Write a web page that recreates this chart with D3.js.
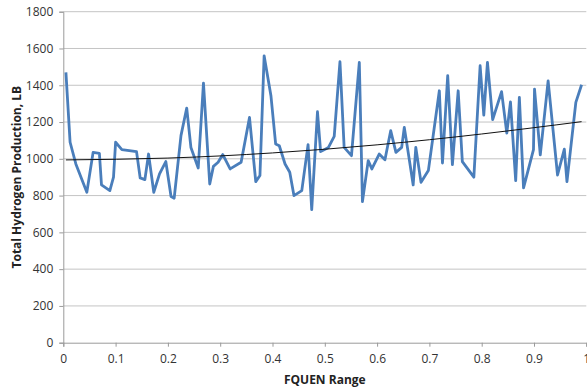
<!DOCTYPE html>
<html>
<head>
<meta charset="utf-8">
<script src="https://cdn.jsdelivr.net/npm/d3@7"></script>
<style>
  html, body { margin: 0; padding: 0; background: #fff; }
  svg { display: block; }
  text { font-family: "Open Sans", "Liberation Sans", sans-serif; }
</style>
</head>
<body>
<svg id="chart" width="587" height="389"></svg>
<script>
// FQUEN values (x) and total hydrogen production (LB)
const fquen = [0.005,0.013,0.024,0.045,0.057,0.069,0.073,0.089,0.096,0.100,
  0.112,0.140,0.147,0.156,0.163,0.173,0.184,0.196,0.206,0.212,
  0.225,0.236,0.244,0.258,0.268,0.280,0.287,0.296,0.305,0.319,
  0.340,0.356,0.368,0.376,0.384,0.397,0.406,0.413,0.424,0.433,
  0.441,0.456,0.468,0.475,0.486,0.492,0.507,0.518,0.529,0.537,
  0.551,0.566,0.572,0.583,0.590,0.604,0.615,0.626,0.636,0.647,
  0.652,0.657,0.669,0.674,0.684,0.698,0.719,0.725,0.735,0.744,
  0.755,0.763,0.785,0.797,0.804,0.811,0.821,0.838,0.848,0.855,
  0.865,0.872,0.880,0.899,0.901,0.912,0.927,0.945,0.958,0.963,
  0.980,0.991];
const production = [1470,1090,972,818,1035,1030,858,827,900,1090,
  1050,1039,896,887,1026,818,918,985,795,786,
  1126,1276,1062,950,1412,863,959,981,1023,945,
  981,1225,876,909,1560,1343,1081,1071,972,927,
  800,827,1077,724,1256,1039,1062,1122,1528,1062,
  1017,1524,767,990,945,1026,995,1153,1035,1062,
  1171,1080,858,1062,872,936,1370,977,1452,968,
  1370,985,900,1506,1238,1524,1213,1365,1140,1310,
  881,1334,842,1050,1379,1021,1424,912,1053,876,
  1307,1403];
// Trendline
const trendX = [0.005, 0.2, 0.4, 0.6, 0.8, 0.991];
const trendY = [994, 1004, 1032, 1076, 1135, 1202];

const xTicks = [0,0.1,0.2,0.3,0.4,0.5,0.6,0.7,0.8,0.9,1];
const yTicks = [0,200,400,600,800,1000,1200,1400,1600,1800];

const svg = d3.select("#chart");
const m = {left: 63.3, right: 586.3, top: 11.7, bottom: 342.7};

const x = d3.scaleLinear().domain([0, 1]).range([m.left, m.right]);
const y = d3.scaleLinear().domain([0, 1800]).range([m.bottom, m.top]);

// gridlines
svg.append("g").selectAll("line").data(yTicks.filter(d => d > 0)).join("line")
  .attr("x1", m.left).attr("x2", m.right)
  .attr("y1", d => y(d)).attr("y2", d => y(d))
  .attr("stroke", "#c4c4c4").attr("stroke-width", 1);

// y axis
const yAxis = svg.append("g").attr("transform", `translate(${m.left},0)`)
  .call(d3.axisLeft(y).tickValues(yTicks).tickSize(4).tickPadding(6).tickFormat(d3.format("d")));
yAxis.select(".domain").attr("stroke", "#9a9a9a");
yAxis.selectAll(".tick line").attr("stroke", "#9a9a9a");
yAxis.selectAll("text").attr("font-size", 12).attr("fill", "#333");

// x axis
const xAxis = svg.append("g").attr("transform", `translate(0,${m.bottom})`)
  .call(d3.axisBottom(x).tickValues(xTicks).tickSize(4).tickPadding(8).tickFormat(d => d3.format("")(d)));
xAxis.select(".domain").attr("stroke", "#9a9a9a");
xAxis.selectAll(".tick line").attr("stroke", "#9a9a9a");
xAxis.selectAll("text").attr("font-size", 12).attr("fill", "#333");

// data line
const line = d3.line().x((d, i) => x(fquen[i])).y(d => y(d));
svg.append("path").datum(production)
  .attr("d", line)
  .attr("fill", "none")
  .attr("stroke", "#4a7ebb")
  .attr("stroke-width", 2.8)
  .attr("stroke-linejoin", "round");

// trendline
const tline = d3.line().x((d, i) => x(trendX[i])).y(d => y(d)).curve(d3.curveNatural);
svg.append("path").datum(trendY)
  .attr("d", tline)
  .attr("fill", "none")
  .attr("stroke", "#111")
  .attr("stroke-width", 1);

// titles
svg.append("text")
  .attr("x", (m.left + m.right) / 2).attr("y", 384)
  .attr("text-anchor", "middle").attr("font-size", 12).attr("font-weight", "bold").attr("fill", "#222")
  .text("FQUEN Range");
svg.append("text")
  .attr("transform", `translate(21,${(m.top + m.bottom) / 2}) rotate(-90)`)
  .attr("text-anchor", "middle").attr("font-size", 12).attr("font-weight", "bold").attr("fill", "#222")
  .text("Total Hydrogen Production, LB");
</script>
</body>
</html>
